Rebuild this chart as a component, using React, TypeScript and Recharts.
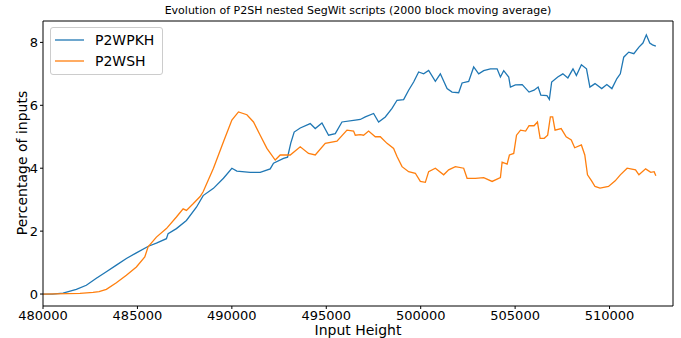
import React from 'react';
import { LineChart, Line, XAxis, YAxis, Legend } from 'recharts';

const chartTitle = 'Evolution of P2SH nested SegWit scripts (2000 block moving average)';
const xLabel = 'Input Height';
const yLabel = 'Percentage of inputs';
const seriesNames = ['P2WPKH', 'P2WSH'];
const seriesColors = ['#1f77b4', '#ff7f0e'];
const xTicks = [480000, 485000, 490000, 495000, 500000, 505000, 510000];
const yTicks = [0, 2, 4, 6, 8];
const xDomain = [480000, 513360];
const yDomain = [-0.38, 8.68];

const p2wpkhBlocks = [
  480000, 480500, 481060, 481765, 482295, 482825, 483355, 483885, 484415, 484945, 485581,
  486005, 486535, 486625, 487065, 487595, 488125, 488480, 489026, 489556, 490001,
  490266, 490971, 491501, 492031, 492206, 492736, 492950, 493120, 493300, 493621,
  494151, 494416, 494771, 495121, 495476, 495831, 496536, 496801, 497066, 497506,
  497771, 498126, 498481, 498746, 499096, 499361, 499626, 499891, 500156, 500421,
  500776, 501041, 501396, 501661, 502011, 502191, 502541, 502806, 503071, 503336,
  503691, 504046, 504221, 504396, 504661, 504751, 505016, 505376, 505737, 506002,
  506219, 506362, 506686, 506813, 506935, 507258, 507528, 507793, 508064, 508244,
  508509, 508779, 508959, 509230, 509585, 509855, 510125, 510390, 510570, 510751,
  511016, 511286, 511556, 511768, 511948, 512129, 512272, 512452,
];
const p2wpkhValues = [
  0.0, 0.0, 0.03, 0.15, 0.28, 0.5, 0.71, 0.92, 1.13, 1.31, 1.52,
  1.62, 1.76, 1.92, 2.08, 2.34, 2.76, 3.13, 3.36, 3.68, 4.0,
  3.91, 3.87, 3.87, 3.98, 4.16, 4.31, 4.35, 4.8, 5.15, 5.28,
  5.42, 5.26, 5.44, 5.05, 5.1, 5.47, 5.53, 5.55, 5.63, 5.74,
  5.47, 5.63, 5.9, 6.16, 6.18, 6.48, 6.74, 7.06, 7.0, 7.11,
  6.76, 7.0, 6.53, 6.42, 6.4, 6.71, 6.76, 7.22, 7.0, 7.1,
  7.16, 7.16, 6.9, 7.1, 6.9, 6.58, 6.65, 6.66, 6.42, 6.48,
  6.58, 6.32, 6.31, 6.19, 6.74, 6.9, 7.0, 6.87, 7.16, 6.95,
  7.29, 7.16, 6.58, 6.69, 6.53, 6.66, 6.53, 6.85, 7.0, 7.53,
  7.69, 7.64, 7.85, 7.98, 8.24, 7.98, 7.92, 7.88,
];

const p2wshBlocks = [
  480000, 481961, 482650, 482968, 483355, 483885, 484415, 484945, 485390, 485565,
  486005, 486535, 487065, 487420, 487595, 487950, 488321, 488480, 489026, 489556,
  490001, 490351, 490796, 491146, 491501, 491856, 492296, 492561, 493091, 493621,
  494061, 494416, 494946, 495566, 496096, 496446, 496536, 496801, 496976, 497241,
  497596, 497861, 498216, 498566, 498746, 499011, 499361, 499716, 499981, 500246,
  500421, 500776, 501216, 501481, 501836, 502276, 502456, 502896, 503336, 503781,
  504221, 504311, 504576, 504698, 504926, 505074, 505286, 505557, 505737, 506002,
  506182, 506325, 506542, 506723, 506866, 506988, 507115, 507438, 507703, 507973,
  508154, 508509, 508689, 508832, 509049, 509230, 509495, 509945, 510300, 510570,
  510931, 511376, 511556, 511911, 512182, 512362, 512452,
];
const p2wshValues = [
  0.0, 0.02, 0.05, 0.08, 0.15, 0.36, 0.6, 0.86, 1.18, 1.5,
  1.81, 2.08, 2.45, 2.71, 2.66, 2.87, 3.1, 3.25, 4.0, 4.84,
  5.53, 5.79, 5.7, 5.47, 5.05, 4.63, 4.26, 4.42, 4.42, 4.68,
  4.47, 4.42, 4.79, 4.86, 5.21, 5.18, 5.05, 5.07, 5.05, 5.18,
  5.0, 5.0, 4.79, 4.63, 4.37, 4.05, 3.89, 3.84, 3.58, 3.55,
  3.89, 4.0, 3.79, 3.95, 4.05, 4.0, 3.68, 3.68, 3.7, 3.58,
  3.7, 4.19, 4.13, 4.42, 4.47, 5.05, 5.21, 5.18, 5.35, 5.35,
  5.47, 4.95, 4.95, 5.05, 5.63, 5.63, 5.21, 5.26, 5.0, 4.9,
  4.65, 4.74, 4.42, 3.79, 3.6, 3.42, 3.37, 3.42, 3.6, 3.79,
  4.0, 3.95, 3.79, 3.98, 3.87, 3.89, 3.76,
];

const p2wpkhData = p2wpkhBlocks.map((b, i) => ({ block: b, value: p2wpkhValues[i] }));
const p2wshData = p2wshBlocks.map((b, i) => ({ block: b, value: p2wshValues[i] }));

const FONT = '"DejaVu Sans", sans-serif';

const LegendBox = () => (
  <div
    style={{
      background: 'rgba(255,255,255,0.8)',
      border: '1px solid #cccccc',
      borderRadius: 3,
      padding: '1px 8px 3px 4px',
      fontFamily: FONT,
      fontSize: 14,
      color: '#000',
    }}
  >
    {seriesNames.map((n, i) => (
      <div key={n} style={{ display: 'flex', alignItems: 'center', height: 21 }}>
        <svg width={29} height={4} style={{ marginRight: 11 }}>
          <line x1={0} y1={2} x2={29} y2={2} stroke={seriesColors[i]} strokeWidth={1.3} />
        </svg>
        <span>{n}</span>
      </div>
    ))}
  </div>
);

export default function App() {
  return (
    <div style={{ position: 'absolute', left: 0, top: 0, width: 681, height: 338, background: '#fff' }}>
      <div
        style={{
          position: 'absolute',
          left: 43,
          width: 630,
          top: 4,
          textAlign: 'center',
          fontFamily: FONT,
          fontSize: 11,
          color: '#000',
          lineHeight: '14px',
        }}
      >
        {chartTitle}
      </div>
      <LineChart width={681} height={338} margin={{ top: 20, right: 7, bottom: 0, left: 0 }}>
        <XAxis
          xAxisId={0}
          type="number"
          dataKey="block"
          domain={xDomain}
          ticks={xTicks}
          allowDataOverflow
          height={32}
          stroke="#000"
          tickSize={3}
          tickMargin={2}
          tick={{ fill: '#000', fontSize: 13, fontFamily: FONT }}
          axisLine={{ stroke: '#000', strokeWidth: 1 }}
          tickLine={{ stroke: '#000' }}
          label={{
            content: () => (
              <text x={358} y={335} textAnchor="middle" fontFamily={FONT} fontSize={14} fill="#000">
                {xLabel}
              </text>
            ),
          }}
        />
        <XAxis
          xAxisId="top"
          orientation="top"
          type="number"
          dataKey="block"
          domain={xDomain}
          ticks={xTicks}
          allowDataOverflow
          height={1}
          tick={false}
          tickSize={0}
          stroke="#000"
          axisLine={{ stroke: '#000', strokeWidth: 1 }}
        />
        <YAxis
          yAxisId={0}
          type="number"
          domain={yDomain}
          ticks={yTicks}
          allowDataOverflow
          width={43}
          tickSize={3}
          tickMargin={2}
          tick={{ fill: '#000', fontSize: 13, fontFamily: FONT }}
          axisLine={{ stroke: '#000', strokeWidth: 1 }}
          tickLine={{ stroke: '#000' }}
          label={{
            content: () => (
              <text
                x={22}
                y={163}
                transform="rotate(-90 22 163)"
                textAnchor="middle"
                dominantBaseline="central"
                fontFamily={FONT}
                fontSize={14}
                fill="#000"
              >
                {yLabel}
              </text>
            ),
          }}
        />
        <YAxis
          yAxisId="right"
          orientation="right"
          type="number"
          domain={yDomain}
          ticks={yTicks}
          allowDataOverflow
          width={1}
          tick={false}
          tickSize={0}
          stroke="#000"
          axisLine={{ stroke: '#000', strokeWidth: 1 }}
        />
        <Legend
          layout="vertical"
          align="center"
          verticalAlign="middle"
          wrapperStyle={{ left: 50, top: 27, width: 'auto', height: 'auto' }}
          content={() => <LegendBox />}
        />
        <Line
          xAxisId={0}
          yAxisId={0}
          data={p2wpkhData}
          dataKey="value"
          name={seriesNames[0]}
          type="linear"
          dot={false}
          activeDot={false}
          stroke={seriesColors[0]}
          strokeWidth={1.3}
          isAnimationActive={false}
        />
        <Line
          xAxisId={0}
          yAxisId={0}
          data={p2wshData}
          dataKey="value"
          name={seriesNames[1]}
          type="linear"
          dot={false}
          activeDot={false}
          stroke={seriesColors[1]}
          strokeWidth={1.3}
          isAnimationActive={false}
        />
        <Line
          xAxisId="top"
          yAxisId="right"
          data={[]}
          dataKey="value"
          legendType="none"
          dot={false}
          activeDot={false}
          stroke="none"
          isAnimationActive={false}
        />
      </LineChart>
    </div>
  );
}
